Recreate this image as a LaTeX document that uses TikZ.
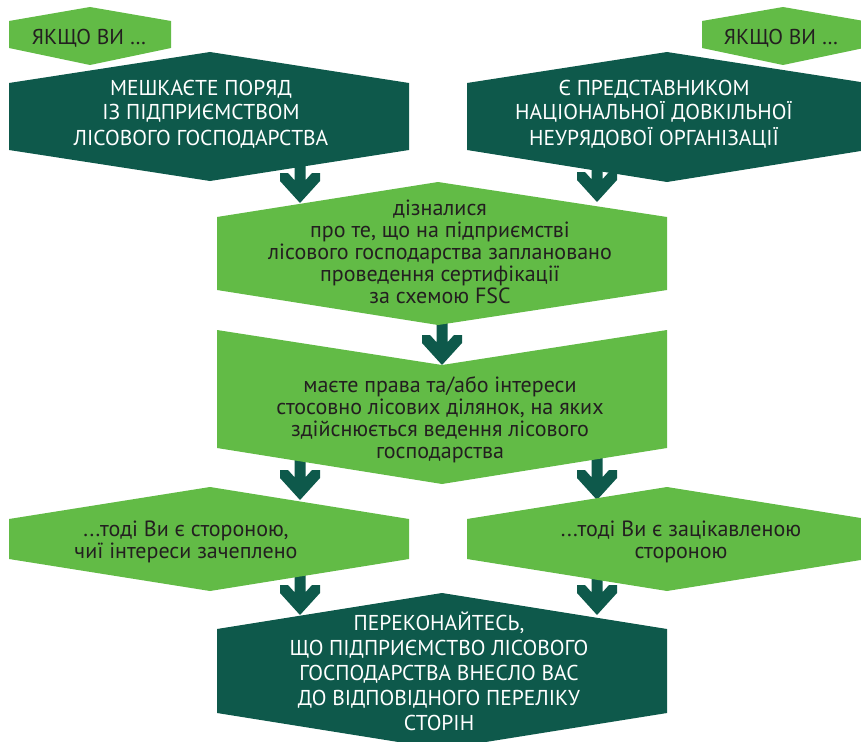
\documentclass[tikz,border=0pt]{standalone}
\usepackage{fontspec}
\setmainfont{PT Sans}
\definecolor{dkgreen}{HTML}{0E594B}
\definecolor{ltgreen}{HTML}{62BB46}
\definecolor{txtdark}{HTML}{231F20}
\tikzset{
  darr/.pic={\fill[dkgreen] (-5.5,-45) -- (5.5,-45) -- (5.5,7.2) -- (12,0) -- (20,0) -- (20,8) -- (0,30) -- (-20,8) -- (-20,0) -- (-12,0) -- (-5.5,7.2) -- cycle;},
  capstext/.style={align=center, inner sep=0pt, anchor=base, font=\fontsize{21.5}{25}\selectfont},
  lowtext/.style={align=center, inner sep=0pt, anchor=base, font=\fontsize{22}{22}\selectfont, text=txtdark},
}
\begin{document}
\begin{tikzpicture}[x=1pt,y=-1pt]
\useasboundingbox (0,0) rectangle (861,741);
\clip (0,0) rectangle (861,741);
% arrows (drawn first, shafts hidden by source boxes)
\coordinate (a1) at (300,173);
\coordinate (a2) at (597,172);
\coordinate (a3) at (442,335);
\coordinate (a4) at (300,470);
\coordinate (a5) at (597,470);
\coordinate (a6) at (300,585);
\coordinate (a7) at (597,585);
\foreach \c in {a1,a2,a3,a4,a5,a6,a7} \pic at (\c) {darr};
% tags
\fill[ltgreen] (9,21) -- (90,7) -- (171,21) -- (171,48) -- (90,65) -- (9,48) -- cycle;
\fill[ltgreen] (702,21) -- (783,7) -- (864,21) -- (864,48) -- (783,65) -- (702,48) -- cycle;
% top dark boxes
\fill[dkgreen] (9,83) -- (210,52) -- (409,83) -- (409,150) -- (210,181) -- (9,150) -- cycle;
\fill[dkgreen] (467,83) -- (667,52) -- (867,83) -- (867,150) -- (667,182) -- (467,150) -- cycle;
% middle green boxes
\fill[ltgreen] (217,217) -- (438,182) -- (667,217) -- (667,290) -- (438,325) -- (217,290) -- cycle;
\fill[ltgreen] (217,330) -- (442,365) -- (667,330) -- (667,448) -- (442,484) -- (217,448) -- cycle;
% lower green boxes
\fill[ltgreen] (9,519) -- (210,487) -- (409,519) -- (409,559) -- (210,591) -- (9,559) -- cycle;
\fill[ltgreen] (467,519) -- (667,487) -- (867,519) -- (867,559) -- (667,591) -- (467,559) -- cycle;
% bottom dark box
\fill[dkgreen] (217,629) -- (442,593) -- (667,629) -- (667,713) -- (442,749) -- (217,713) -- cycle;
% texts
\node[capstext, text=txtdark] (t1) at (89,45) {ЯКЩО ВИ …};
\node[capstext, text=txtdark] (t2) at (781,45) {ЯКЩО ВИ …};
\node[capstext, text=white] (d1) at (201,145) {МЕШКАЄТЕ ПОРЯД\\ІЗ ПІДПРИЄМСТВОМ\\ЛІСОВОГО ГОСПОДАРСТВА};
\node[capstext, text=white] (d2) at (654,145) {Є ПРЕДСТАВНИКОМ\\НАЦІОНАЛЬНОЇ ДОВКІЛЬНОЇ\\НЕУРЯДОВОЇ ОРГАНІЗАЦІЇ};
\node[lowtext] (g1) at (440,303) {дізналися\\про те, що на підприємстві\\лісового господарства заплановано\\проведення сертифікації\\за схемою FSC};
\node[lowtext] (g2) at (440,458) {маєте права та/або інтереси\\стосовно лісових ділянок, на яких\\здійснюється ведення лісового\\господарства};
\node[lowtext] (g3) at (186,558) {...тоді Ви є стороною,\\чиї інтереси зачеплено};
\node[lowtext] (g4) at (681,558) {...тоді Ви є зацікавленою\\стороною};
\node[capstext, text=white] (d3) at (439,730) {ПЕРЕКОНАЙТЕСЬ,\\ЩО ПІДПРИЄМСТВО ЛІСОВОГО\\ГОСПОДАРСТВА ВНЕСЛО ВАС\\ДО ВІДПОВІДНОГО ПЕРЕЛІКУ\\СТОРІН};
\end{tikzpicture}
\end{document}
